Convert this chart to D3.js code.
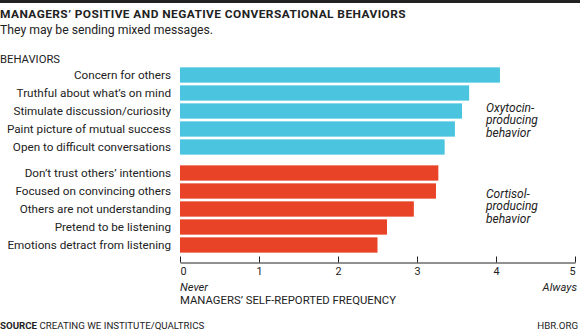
<!DOCTYPE html>
<html>
<head>
<meta charset="utf-8">
<script src="https://cdn.jsdelivr.net/npm/d3@7"></script>
<style>
  html, body { margin: 0; padding: 0; background: #fff; }
  svg { display: block; font-family: Roboto, "Open Sans", sans-serif; }
</style>
</head>
<body>
<svg id="chart" width="580" height="333"></svg>
<script>
// Oxytocin-producing behaviors (blue group)
const positiveBehaviors = [
  "Concern for others",
  "Truthful about what\u2019s on mind",
  "Stimulate discussion/curiosity",
  "Paint picture of mutual success",
  "Open to difficult conversations"
];
const positiveValues = [4.05, 3.66, 3.57, 3.48, 3.35];

// Cortisol-producing behaviors (red group)
const negativeBehaviors = [
  "Don\u2019t trust others\u2019 intentions",
  "Focused on convincing others",
  "Others are not understanding",
  "Pretend to be listening",
  "Emotions detract from listening"
];
const negativeValues = [3.27, 3.24, 2.96, 2.62, 2.50];

const xTicks = [0, 1, 2, 3, 4, 5];

const svg = d3.select("#chart");
const ink = "#222";
const blue = "#4BC5DF";
const red = "#E84327";

const x = d3.scaleLinear().domain([0, 5]).range([180, 575]);

// top rule
svg.append("rect").attr("x", 0).attr("y", 0).attr("width", 580).attr("height", 3).attr("fill", ink);

// title + subtitle
svg.append("text").attr("x", 0).attr("y", 17.5)
  .attr("font-size", 11).attr("font-weight", 700).attr("fill", ink)
  .attr("letter-spacing", 0.4)
  .attr("textLength", 406).attr("lengthAdjust", "spacingAndGlyphs")
  .text("MANAGERS\u2019 POSITIVE AND NEGATIVE CONVERSATIONAL BEHAVIORS");
svg.append("text").attr("x", 0).attr("y", 34)
  .attr("font-size", 12.5).attr("fill", ink)
  .attr("textLength", 213).attr("lengthAdjust", "spacingAndGlyphs")
  .text("They may be sending mixed messages.");

svg.append("text").attr("x", 0).attr("y", 63)
  .attr("font-size", 10.5).attr("fill", ink)
  .attr("textLength", 60).attr("lengthAdjust", "spacingAndGlyphs")
  .text("BEHAVIORS");

function drawGroup(names, values, color, top, note, noteY) {
  const y = d3.scaleBand().domain(names).range([top, top + 90]).paddingInner(0.15).paddingOuter(0.075);
  const g = svg.append("g");
  g.selectAll("rect").data(names).join("rect")
    .attr("x", x(0))
    .attr("y", d => y(d))
    .attr("width", (d, i) => x(values[i]) - x(0))
    .attr("height", y.bandwidth())
    .attr("fill", color);
  g.selectAll("text.lbl").data(names).join("text")
    .attr("class", "lbl")
    .attr("x", 171)
    .attr("y", d => y(d) + y.bandwidth() / 2)
    .attr("dy", "0.36em")
    .attr("text-anchor", "end")
    .attr("font-size", 11.7)
    .attr("fill", ink)
    .text(d => d);
  const t = svg.append("text").attr("x", 486).attr("y", noteY)
    .attr("font-size", 12).attr("font-style", "italic").attr("fill", ink);
  note.forEach((line, i) => {
    t.append("tspan").attr("x", 486).attr("dy", i === 0 ? 0 : 12.7).text(line);
  });
}

drawGroup(positiveBehaviors, positiveValues, blue, 66, ["Oxytocin-", "producing", "behavior"], 111.5);
drawGroup(negativeBehaviors, negativeValues, red, 164, ["Cortisol-", "producing", "behavior"], 197.5);

// x axis: ticks point up, labels below
const axis = svg.append("g")
  .attr("transform", "translate(0,262.5)")
  .call(d3.axisBottom(x).tickValues(xTicks).tickSize(-6).tickSizeOuter(0).tickPadding(5).tickFormat(d3.format("d")));
axis.select(".domain").attr("stroke", ink);
axis.selectAll(".tick line").attr("stroke", ink);
axis.selectAll(".tick text")
  .attr("fill", ink)
  .attr("font-size", 10.8)
  .attr("font-family", "Roboto, sans-serif")
  .attr("text-anchor", d => d === 0 ? "start" : d === 5 ? "end" : "middle");

svg.append("text").attr("x", 180).attr("y", 290.5)
  .attr("font-size", 11.2).attr("font-style", "italic").attr("fill", ink).text("Never");
svg.append("text").attr("x", 577).attr("y", 290.5).attr("text-anchor", "end")
  .attr("font-size", 11.2).attr("font-style", "italic").attr("fill", ink).text("Always");
svg.append("text").attr("x", 180).attr("y", 303.5)
  .attr("font-size", 11).attr("fill", ink)
  .attr("textLength", 216).attr("lengthAdjust", "spacingAndGlyphs")
  .text("MANAGERS\u2019 SELF-REPORTED FREQUENCY");

// footer
const src = svg.append("text").attr("x", 0).attr("y", 329)
  .attr("font-size", 9.7).attr("fill", ink);
src.append("tspan").attr("font-weight", 700).text("SOURCE");
src.append("tspan").text(" CREATING WE INSTITUTE/QUALTRICS");
svg.append("text").attr("x", 578).attr("y", 329).attr("text-anchor", "end")
  .attr("font-size", 9.7).attr("fill", ink).text("HBR.ORG");
</script>
</body>
</html>
